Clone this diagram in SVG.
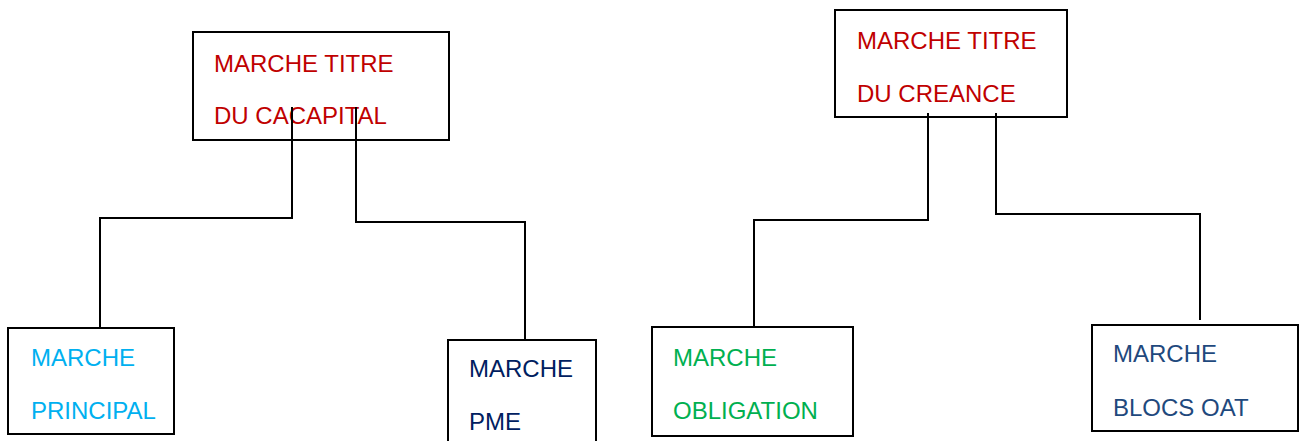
<svg xmlns="http://www.w3.org/2000/svg" width="1299" height="441" viewBox="0 0 1299 441">
<style>
.box{fill:#fff;stroke:#000;stroke-width:2}
.t{font-family:"Liberation Sans",Arial,sans-serif;font-size:24px}
.red{fill:#C00000}.cyan{fill:#00B0F0}.navy{fill:#002060}.green{fill:#00B050}.slate{fill:#1F497D}
.c{fill:none;stroke:#000;stroke-width:2}
</style>
<rect width="1299" height="441" fill="#fff"/>
<g id="n1"><rect class="box" x="193" y="32" width="256" height="108"/>
<text class="t red" x="214" y="72">MARCHE TITRE</text><text class="t red" x="214" y="124">DU CACAPITAL</text></g>
<g id="n2"><rect class="box" x="835" y="10" width="232" height="107"/>
<text class="t red" x="857" y="49">MARCHE TITRE</text><text class="t red" x="857" y="102">DU CREANCE</text></g>
<g id="n3"><rect class="box" x="8" y="328" width="166" height="106"/>
<text class="t cyan" x="31" y="366">MARCHE</text><text class="t cyan" x="31" y="419">PRINCIPAL</text></g>
<g id="n4"><rect class="box" x="448" y="340" width="148" height="110"/>
<text class="t navy" x="469" y="377">MARCHE</text><text class="t navy" x="469" y="430">PME</text></g>
<g id="n5"><rect class="box" x="652" y="327" width="201" height="109"/>
<text class="t green" x="673" y="366">MARCHE</text><text class="t green" x="673" y="419">OBLIGATION</text></g>
<g id="n6"><rect class="box" x="1092" y="325" width="206" height="106"/>
<text class="t slate" x="1113" y="362">MARCHE</text><text class="t slate" x="1113" y="416">BLOCS OAT</text></g>
<g id="connectors">
<polyline class="c" points="292,107 292,218 100,218 100,328"/>
<polyline class="c" points="356,107 356,222 525,222 525,340"/>
<polyline class="c" points="928,113 928,220 754,220 754,327"/>
<polyline class="c" points="996,113 996,214 1200,214 1200,320"/>
</g>
</svg>
